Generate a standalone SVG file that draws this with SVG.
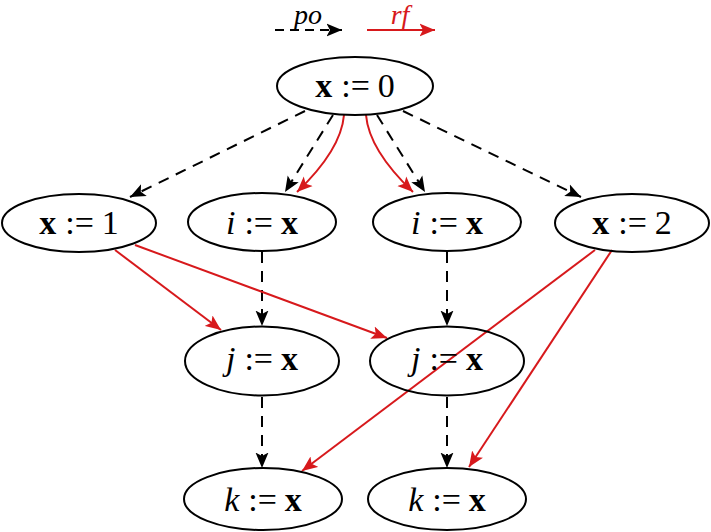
<svg xmlns="http://www.w3.org/2000/svg" width="711" height="532" viewBox="0 0 711 532">
<style>
  .node ellipse { fill: none; stroke: #000000; stroke-width: 2; }
  .lbl { font-family: "Liberation Serif", "DejaVu Serif", serif; font-size: 34px; fill: #000000; text-anchor: middle; }
  .b { font-weight: bold; }
  .it { font-style: italic; }
  .po { fill: none; stroke: #000000; stroke-width: 2; stroke-dasharray: 11 8; marker-end: url(#ahk); }
  .rf { fill: none; stroke: #d7191c; stroke-width: 2; marker-end: url(#ahr); }
  .leg { font-family: "Liberation Serif", "DejaVu Serif", serif; font-size: 28px; font-style: italic; text-anchor: middle; }
</style>
<defs>
  <marker id="ahk" markerUnits="userSpaceOnUse" viewBox="0 0 16 14" markerWidth="16" markerHeight="14" refX="15.5" refY="7" orient="auto">
    <path d="M0,0.5 L15.5,7 L0,13.5 L3.5,7 Z" fill="#000000"/>
  </marker>
  <marker id="ahr" markerUnits="userSpaceOnUse" viewBox="0 0 16 14" markerWidth="16" markerHeight="14" refX="15.5" refY="7" orient="auto">
    <path d="M0,0.5 L15.5,7 L0,13.5 L3.5,7 Z" fill="#d7191c"/>
  </marker>
</defs>
<rect width="711" height="532" fill="#ffffff"/>

<g id="legend">
  <line class="po" x1="275" y1="30" x2="342" y2="30" style="stroke-dasharray: 9 6"/>
  <text class="leg" x="308" y="24" fill="#000000">po</text>
  <line class="rf" x1="367" y1="30" x2="435" y2="30"/>
  <text class="leg" x="400" y="24" fill="#d7191c">rf</text>
</g>

<g id="connectors">
  <line class="po" x1="305" y1="111" x2="130" y2="197"/>
  <line class="po" x1="333" y1="115" x2="285" y2="192"/>
  <line class="po" x1="377" y1="115" x2="425" y2="192"/>
  <line class="po" x1="403" y1="111" x2="581" y2="197"/>
  <line class="po" x1="262" y1="252" x2="262" y2="326"/>
  <line class="po" x1="447" y1="252" x2="447" y2="326"/>
  <line class="po" x1="262" y1="397" x2="262" y2="468"/>
  <line class="po" x1="447" y1="397" x2="447" y2="468"/>
  <path class="rf" d="M344,115 Q341,150 297,192"/>
  <path class="rf" d="M366,115 Q369,150 413,192"/>
  <line class="rf" x1="115" y1="250" x2="221" y2="330"/>
  <line class="rf" x1="135" y1="245" x2="387" y2="338"/>
  <line class="rf" x1="595" y1="250" x2="302" y2="471"/>
  <line class="rf" x1="612" y1="250" x2="469" y2="467"/>
</g>

<g id="n0" class="node">
  <ellipse cx="355" cy="86" rx="78" ry="29"/>
  <text class="lbl" x="355" y="97"><tspan class="b">x</tspan><tspan dx="9">:=</tspan><tspan dx="8">0</tspan></text>
</g>
<g id="n1" class="node">
  <ellipse cx="79" cy="223" rx="77" ry="29"/>
  <text class="lbl" x="79" y="234"><tspan class="b">x</tspan><tspan dx="9">:=</tspan><tspan dx="8">1</tspan></text>
</g>
<g id="n2" class="node">
  <ellipse cx="262" cy="222" rx="74" ry="29"/>
  <text class="lbl" x="262" y="234"><tspan class="it">i</tspan><tspan dx="9">:=</tspan><tspan class="b" dx="8">x</tspan></text>
</g>
<g id="n3" class="node">
  <ellipse cx="447" cy="222" rx="74" ry="29"/>
  <text class="lbl" x="447" y="234"><tspan class="it">i</tspan><tspan dx="9">:=</tspan><tspan class="b" dx="8">x</tspan></text>
</g>
<g id="n4" class="node">
  <ellipse cx="632" cy="223" rx="77" ry="29"/>
  <text class="lbl" x="632" y="234"><tspan class="b">x</tspan><tspan dx="9">:=</tspan><tspan dx="8">2</tspan></text>
</g>
<g id="n5" class="node">
  <ellipse cx="262" cy="361" rx="77" ry="34.5"/>
  <text class="lbl" x="262" y="370"><tspan class="it">j</tspan><tspan dx="9">:=</tspan><tspan class="b" dx="8">x</tspan></text>
</g>
<g id="n6" class="node">
  <ellipse cx="447" cy="361" rx="77" ry="34.5"/>
  <text class="lbl" x="447" y="370"><tspan class="it">j</tspan><tspan dx="9">:=</tspan><tspan class="b" dx="8">x</tspan></text>
</g>
<g id="n7" class="node">
  <ellipse cx="263" cy="499" rx="79" ry="31"/>
  <text class="lbl" x="263" y="511"><tspan class="it">k</tspan><tspan dx="9">:=</tspan><tspan class="b" dx="8">x</tspan></text>
</g>
<g id="n8" class="node">
  <ellipse cx="447" cy="499" rx="79" ry="31"/>
  <text class="lbl" x="447" y="511"><tspan class="it">k</tspan><tspan dx="9">:=</tspan><tspan class="b" dx="8">x</tspan></text>
</g>
</svg>
